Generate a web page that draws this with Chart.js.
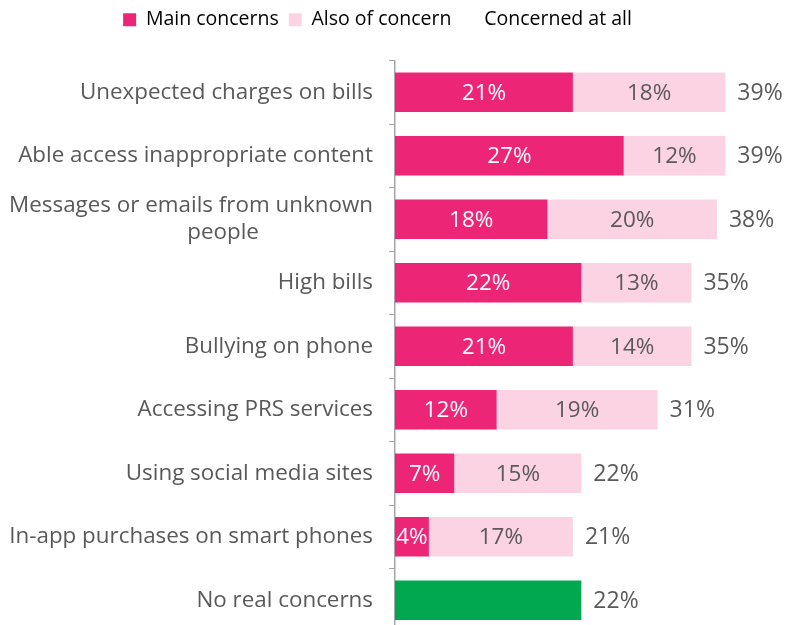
<!DOCTYPE html>
<html>
<head>
<meta charset="utf-8">
<script src="https://cdn.jsdelivr.net/npm/chart.js@4.4.1/dist/chart.umd.min.js"></script>
<style>
  html, body { margin: 0; padding: 0; background: #fff; overflow: hidden; }
  #wrap { position: relative; width: 785px; height: 640px; }
</style>
</head>
<body>
<div id="wrap"><canvas id="chart"></canvas></div>
<script>
// Categorias e valores (%)
const categories = [
  "Unexpected charges on bills",
  "Able access inappropriate content",
  ["Messages or emails from unknown", "people"],
  "High bills",
  "Bullying on phone",
  "Accessing PRS services",
  "Using social media sites",
  "In-app purchases on smart phones",
  "No real concerns"
];
const mainConcerns   = [21, 27, 18, 22, 21, 12, 7, 4, 22];
const alsoOfConcern  = [18, 12, 20, 13, 14, 19, 15, 17, 0];
const concernedAtAll = [39, 39, 38, 35, 35, 31, 22, 21, 22];

const PINK = "#ed2577";
const LIGHT = "#fcd3e2";
const GREEN = "#00a84f";
const GREY = "#595959";
const FONT = "'Open Sans', sans-serif";
const AXIS_X = 395;

// ultima barra ("No real concerns") fica verde
const mainColors = mainConcerns.map((v, i) => i === categories.length - 1 ? GREEN : PINK);

// espaço extra abaixo da legenda
const legendGap = {
  id: "legendGap",
  beforeInit(chart) {
    const fit = chart.legend.fit;
    chart.legend.fit = function () {
      fit.call(this);
      this.height += 21;
    };
  }
};

// rótulos dentro das barras + total à direita
const valueLabels = {
  id: "valueLabels",
  afterDatasetsDraw(chart) {
    const ctx = chart.ctx;
    ctx.save();
    ctx.font = "22.5px " + FONT;
    ctx.textBaseline = "middle";
    ctx.textAlign = "center";
    chart.data.datasets.forEach((ds, di) => {
      const meta = chart.getDatasetMeta(di);
      meta.data.forEach((bar, i) => {
        const v = ds.data[i];
        if (!v || i === categories.length - 1) return;
        ctx.fillStyle = di === 0 ? "#fff" : GREY;
        ctx.fillText(v + "%", (bar.x + bar.base) / 2, bar.y + 1);
      });
    });
    const meta = chart.getDatasetMeta(1);
    ctx.textAlign = "left";
    ctx.fillStyle = GREY;
    ctx.font = "23px " + FONT;
    meta.data.forEach((bar, i) => {
      const x = chart.scales.x.getPixelForValue(concernedAtAll[i]);
      ctx.fillText(concernedAtAll[i] + "%", x + 12, bar.y + 1);
    });
    ctx.restore();
  }
};

// nomes das categorias (linhas centralizadas entre si)
const catLabels = {
  id: "catLabels",
  afterDraw(chart) {
    const ctx = chart.ctx;
    const y = chart.scales.y;
    ctx.save();
    ctx.font = "22.4px " + FONT;
    ctx.fillStyle = GREY;
    ctx.textBaseline = "middle";
    ctx.textAlign = "left";
    categories.forEach((c, i) => {
      const lines = Array.isArray(c) ? c : [c];
      const yc = y.getPixelForTick(i);
      const widest = Math.max(...lines.map(l => ctx.measureText(l).width));
      const right = y.right - 22;
      lines.forEach((l, k) => {
        const w = ctx.measureText(l).width;
        const ly = yc + (k - (lines.length - 1) / 2) * 27;
        const shift = k > 0 ? 32 : 0;
        ctx.fillText(l, right - widest + (widest - w) / 2 + shift, ly);
      });
    });
    ctx.restore();
  }
};

new Chart(document.getElementById("chart"), {
  type: "bar",
  data: {
    labels: categories,
    datasets: [
      { label: "Main concerns", data: mainConcerns, backgroundColor: mainColors },
      { label: "Also of concern", data: alsoOfConcern, backgroundColor: LIGHT }
    ]
  },
  options: {
    indexAxis: "y",
    responsive: true,
    maintainAspectRatio: false,
    animation: false,
    barPercentage: 0.62,
    categoryPercentage: 1,
    layout: { padding: { top: 0, right: 30, bottom: 8, left: 0 } },
    scales: {
      x: { stacked: true, display: false, min: 0, max: 42.5 },
      y: {
        stacked: true,
        ticks: { color: "rgba(0,0,0,0)", font: { size: 1, family: FONT } },
        grid: { offset: true, drawOnChartArea: false, tickLength: 6, color: "#a6a6a6" },
        border: { color: "#a6a6a6", width: 1.5 },
        afterFit(scale) { scale.width = AXIS_X; }
      }
    },
    plugins: {
      tooltip: { enabled: false },
      legend: {
        position: "top",
        labels: {
          color: GREY,
          font: { size: 19.5, family: FONT },
          boxWidth: 13,
          boxHeight: 13,
          padding: 10,
          generateLabels() {
            return [
              { text: "Main concerns", fillStyle: PINK, strokeStyle: PINK, lineWidth: 0 },
              { text: "Also of concern", fillStyle: LIGHT, strokeStyle: LIGHT, lineWidth: 0 },
              { text: "Concerned at all", fillStyle: "rgba(0,0,0,0)", strokeStyle: "rgba(0,0,0,0)", lineWidth: 0 }
            ];
          }
        }
      }
    }
  },
  plugins: [legendGap, valueLabels, catLabels]
});
</script>
</body>
</html>
